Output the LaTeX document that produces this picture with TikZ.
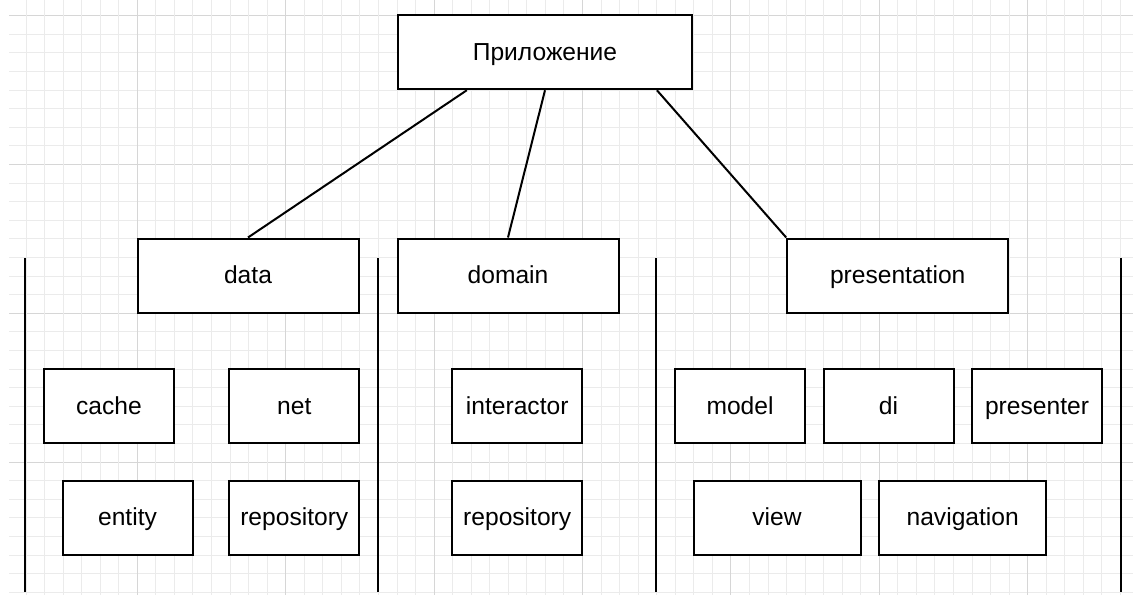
\documentclass[tikz,border=0pt]{standalone}
\usepackage{fontspec}
\setmainfont{Liberation Sans}
\usetikzlibrary{calc}

\tikzset{
	gridminor/.style = {draw = black!8, line width = 0.5pt},
	gridmajor/.style = {draw = black!16, line width = 0.5pt},
	box/.style = {draw, line width = 1pt, fill = white, minimum height = 37pt, text height = 9pt, text depth = 1pt, font = \fontsize{12.3}{15}\selectfont},
	layerbox/.style = {box, minimum width = 110.5pt},
	smallbox/.style = {box, minimum width = 65pt},
	widebox/.style = {box, minimum width = 83.5pt},
	link/.style = {line width = 1pt},
	divider/.style = {line width = 1pt}
}

\begin{document}
\begin{tikzpicture}[x = 0.5pt, y = -0.5pt]

			\useasboundingbox (0, 0) rectangle (1133, 595);
			\fill[white] (0, 0) rectangle (1133, 595);

			% background grid
			\foreach \k in {0, ..., 31} {
				\pgfmathtruncatemacro{\m}{mod(\k, 8)}
				\ifnum\m=0
					\draw[gridmajor] (9, {15.7 + 18.6*\k}) -- (1133, {15.7 + 18.6*\k});
				\else
					\draw[gridminor] (9, {15.7 + 18.6*\k}) -- (1133, {15.7 + 18.6*\k});
				\fi
			}
			\foreach \k in {-6, ..., 53} {
				\pgfmathtruncatemacro{\m}{mod(\k + 48, 8)}
				\ifnum\m=0
					\draw[gridmajor] ({137.3 + 18.55*\k}, 0) -- ({137.3 + 18.55*\k}, 595);
				\else
					\draw[gridminor] ({137.3 + 18.55*\k}, 0) -- ({137.3 + 18.55*\k}, 595);
				\fi
			}

			% layer dividers
			\foreach \x in {25.3, 378, 656, 1120.7}
				\draw[divider] (\x, 258.3) -- (\x, 591.7);

			\node[box, minimum width = 147pt] (app) at (545, 52.2) {Приложение};

			\node[layerbox] (data) at (248, 275.5) {data};
			\node[layerbox] (domain) at (508, 275.5) {domain};
			\node[layerbox] (presentation) at (897.7, 275.5) {presentation};

			\node[smallbox] (cache) at (109, 406) {cache};
			\node[smallbox] (net) at (294.3, 406) {net};
			\node[smallbox] (entity) at (127.5, 517.7) {entity};
			\node[smallbox] (datarepo) at (294.3, 517.7) {repository};

			\node[smallbox] (interactor) at (517.2, 406) {interactor};
			\node[smallbox] (domainrepo) at (517.2, 517.7) {repository};

			\node[smallbox] (model) at (740, 406) {model};
			\node[smallbox] (di) at (888.5, 406) {di};
			\node[smallbox] (presenter) at (1037, 406) {presenter};
			\node[widebox] (view) at (777, 517.7) {view};
			\node[widebox] (navigation) at (962.7, 517.7) {navigation};

			\draw[link] ($(app.south west)!0.236!(app.south east)$) -- (data.north);
			\draw[link] (app.south) -- (domain.north);
			\draw[link] ($(app.south west)!0.878!(app.south east)$) -- (presentation.north west);

		\end{tikzpicture}
\end{document}
